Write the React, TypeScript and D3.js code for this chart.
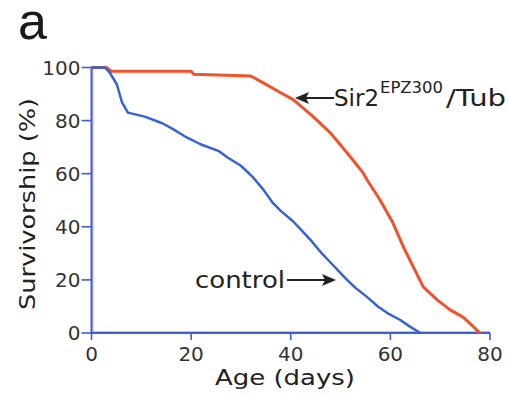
import React from 'react';
import * as d3 from 'd3';

// survival curves: [age in days, survivorship %]
const controlDays = [0, 2.7, 3.7, 5.1, 6.1, 7.3, 10.7, 14.2, 16.2, 18.8, 22, 25.6, 27.4, 30, 32.5, 34.5, 36.4, 38, 40.5, 42, 44, 46, 47.5, 51.3, 53, 55.3, 57.5, 59.4, 62, 64, 66];
const controlSurv = [100, 100, 98, 93.6, 87, 83, 81.5, 79, 77, 74, 71, 68.5, 66, 63, 58.5, 54, 49, 46, 42, 39, 35, 30.5, 27.5, 20, 17, 13.6, 10, 7.5, 4.9, 2.3, 0];

const sir2Days = [0, 3, 4, 20, 20.5, 32, 34.4, 37.9, 40.5, 44.5, 47.9, 51.3, 54.5, 55.3, 57.9, 60.5, 62.6, 64.6, 66.6, 69.4, 72, 74.6, 77.4, 78];
const sir2Surv = [100, 100, 98.6, 98.6, 97.5, 96.8, 94.3, 90.6, 87.9, 81.5, 75.5, 67.9, 60.4, 57.7, 50.2, 41.5, 32.5, 24.9, 17.4, 12.5, 8.7, 6, 1.1, 0];

const xTicks = [0, 20, 40, 60, 80];
const yTicks = [0, 20, 40, 60, 80, 100];

const W = 509;
const H = 397;
const font = 'DejaVu Sans, sans-serif';

export default function App() {
  const x = d3.scaleLinear().domain([0, 80]).range([91.5, 490]);
  const y = d3.scaleLinear().domain([0, 100]).range([333, 67.5]);

  const line = d3.line<[number, number]>()
    .x(d => x(d[0]))
    .y(d => y(d[1]));

  const control = controlDays.map((d, i) => [d, controlSurv[i]] as [number, number]);
  const sir2 = sir2Days.map((d, i) => [d, sir2Surv[i]] as [number, number]);

  const axisBlue = '#3b5fd6';
  const shadow = '#f3a9c4';

  return (
    <svg width={W} height={H} style={{position: 'absolute', left: 0, top: 0}}>
      <rect width={W} height={H} fill="#fff" />

      {/* panel letter */}
      <text x={18} y={39} fontFamily="Liberation Sans, Arial, sans-serif" fontSize={52} fill="#1a1a1a">a</text>

      {/* pinkish misregistration shadow of the axes */}
      <line x1={x(0) + 1.5} x2={x(0) + 1.5} y1={y(100)} y2={y(0)} stroke={shadow} strokeWidth={1.2} />
      <line x1={x(0)} x2={x(80)} y1={y(0) - 1.5} y2={y(0) - 1.5} stroke={shadow} strokeWidth={1.2} />

      {/* axes */}
      <line x1={x(0)} x2={x(0)} y1={y(100)} y2={y(0) + 1} stroke={axisBlue} strokeWidth={2} />
      <line x1={x(0) - 1} x2={x(80)} y1={y(0)} y2={y(0)} stroke={axisBlue} strokeWidth={2} />

      {yTicks.map(t => (
        <g key={'y' + t}>
          <line x1={x(0) - 10} x2={x(0)} y1={y(t)} y2={y(t)} stroke={axisBlue} strokeWidth={1.6} />
          <text x={x(0) - 11} y={y(t)} dy="0.36em" textAnchor="end" fontFamily={font} fontSize={20} fill="#333">{t}</text>
        </g>
      ))}
      {xTicks.map(t => (
        <g key={'x' + t}>
          <line x1={x(t)} x2={x(t)} y1={y(0)} y2={y(0) + 7} stroke={axisBlue} strokeWidth={1.6} />
          <text x={x(t)} y={361} textAnchor="middle" fontFamily={font} fontSize={20} fill="#333">{t}</text>
        </g>
      ))}

      {/* axis titles */}
      <text x={285} y={385} textAnchor="middle" fontFamily={font} fontSize={22} fill="#222"
        textLength={140} lengthAdjust="spacingAndGlyphs">Age (days)</text>
      <text transform="translate(35,204) rotate(-90)" textAnchor="middle" fontFamily={font} fontSize={22} fill="#222"
        textLength={212} lengthAdjust="spacingAndGlyphs">Survivorship (%)</text>

      {/* curves */}
      <path d={line(sir2) || ''} fill="none" stroke="#f0532c" strokeWidth={3} strokeLinejoin="round" />
      <path d={line(control) || ''} fill="none" stroke="#3563d4" strokeWidth={2.5} strokeLinejoin="round" />

      {/* labels with arrows */}
      <text x={195} y={288} fontFamily={font} fontSize={23} fill="#222"
        textLength={90} lengthAdjust="spacingAndGlyphs">control</text>
      <line x1={287} x2={326} y1={280} y2={280} stroke="#222" strokeWidth={2} />
      <path d="M336,280 L322,274 L325,280 L322,286 Z" fill="#222" />

      <path d="M295,98 L309,92 L306,98 L309,104 Z" fill="#222" />
      <line x1={305} x2={334} y1={98} y2={98} stroke="#222" strokeWidth={2} />
      <text x={334} y={106} fontFamily={font} fontSize={23} fill="#222"
        textLength={45} lengthAdjust="spacingAndGlyphs">Sir2</text>
      <text x={380} y={93} fontFamily={font} fontSize={15} fill="#222"
        textLength={63} lengthAdjust="spacingAndGlyphs">EPZ300</text>
      <text x={446} y={106} fontFamily={font} fontSize={23} fill="#222"
        textLength={60} lengthAdjust="spacingAndGlyphs">/Tub</text>
    </svg>
  );
}
